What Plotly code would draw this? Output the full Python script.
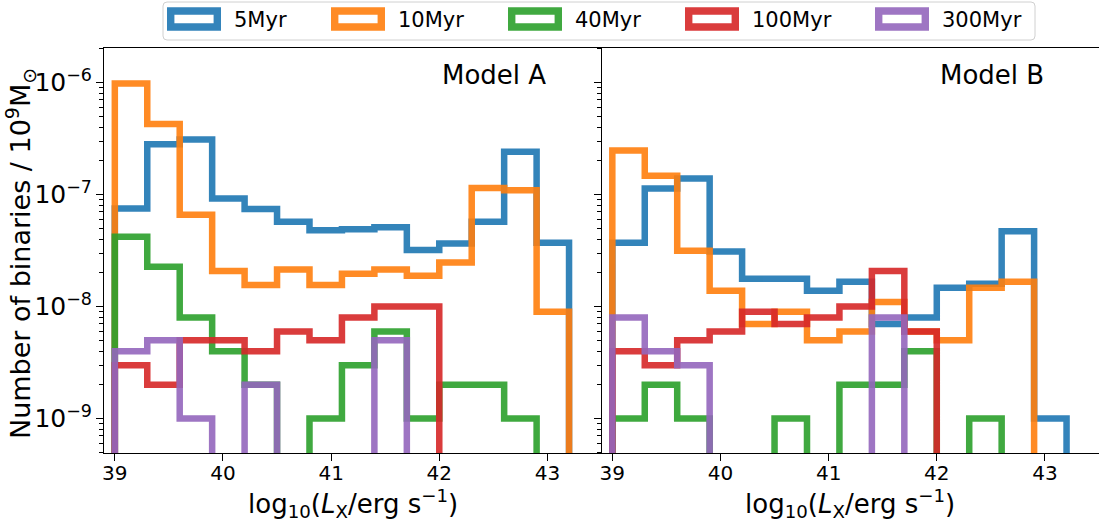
import plotly.graph_objects as go

# ---------------- data ----------------
BIN_EDGES = [39.0, 39.3, 39.6, 39.9, 40.2, 40.5, 40.8, 41.1, 41.4, 41.7, 42.0, 42.3, 42.6, 42.9, 43.2]
AGES = ["5Myr", "10Myr", "40Myr", "100Myr", "300Myr"]
COLORS = ["#1f77b4", "#ff7f0e", "#2ca02c", "#d62728", "#9467bd"]
PANELS = ["Model A", "Model B"]
X_TICKS = [39, 40, 41, 42, 43]

# Model A (one value per bin)
A_5Myr = [7.5e-8, 2.8e-7, 3.1e-7, 9.2e-8, 7.4e-8, 5.7e-8, 4.8e-8, 4.9e-8, 5.1e-8, 3.2e-8, 3.65e-8, 5.7e-8, 2.4e-7, 3.7e-8]
A_10Myr = [9.8e-7, 4.25e-7, 6.6e-8, 2.07e-8, 1.56e-8, 2.14e-8, 1.56e-8, 1.96e-8, 2.14e-8, 1.88e-8, 2.47e-8, 1.14e-7, 1.09e-7, 9e-9]
A_40Myr = [4.2e-8, 2.26e-8, 8e-9, 4e-9, 2e-9, 0, 1e-9, 3e-9, 6e-9, 1e-9, 2e-9, 2e-9, 1e-9, 0]
A_100Myr = [3e-9, 2e-9, 5e-9, 5e-9, 4e-9, 6e-9, 5e-9, 8e-9, 1e-8, 1e-8, 0, 0, 0, 0]
A_300Myr = [4e-9, 5e-9, 1e-9, 0, 2e-9, 0, 0, 0, 5e-9, 0, 0, 0, 0, 0]

# Model B
B_5Myr = [3.7e-8, 1.13e-7, 1.39e-7, 3.1e-8, 1.77e-8, 1.77e-8, 1.38e-8, 1.66e-8, 7e-9, 8e-9, 1.47e-8, 1.6e-8, 4.7e-8, 1e-9]
B_10Myr = [2.47e-7, 1.47e-7, 3.14e-8, 1.38e-8, 7e-9, 9e-9, 5e-9, 6e-9, 1.1e-8, 6e-9, 5e-9, 1.47e-8, 1.66e-8, 0]
B_40Myr = [1e-9, 2e-9, 1e-9, 0, 0, 1e-9, 0, 2e-9, 2e-9, 4e-9, 0, 1e-9, 0, 0]
B_100Myr = [4e-9, 3e-9, 5e-9, 6e-9, 9e-9, 7e-9, 8e-9, 1e-8, 2.07e-8, 6e-9, 0, 0, 0, 0]
B_300Myr = [8e-9, 4e-9, 3e-9, 0, 0, 0, 0, 0, 8e-9, 0, 0, 0, 0, 0]

MODEL_A = [A_5Myr, A_10Myr, A_40Myr, A_100Myr, A_300Myr]
MODEL_B = [B_5Myr, B_10Myr, B_40Myr, B_100Myr, B_300Myr]

# ---------------- layout constants ----------------
W, H = 1099, 523
ML, MR, MT, MB = 104, 0, 48, 70
PW, PH = W - ML - MR, H - MT - MB
FONT = "DejaVu Sans"
LW = 6.5
FLOOR = 1e-13  # empty bins drop below the axis like matplotlib's step histogram


def px(x):
    return (x - ML) / PW


def py(y):
    return (H - MB - y) / PH


def step_xy(edges, vals):
    xs, ys = [edges[0]], [FLOOR]
    for i, v in enumerate(vals):
        vv = v if v > 0 else FLOOR
        xs += [edges[i], edges[i + 1]]
        ys += [vv, vv]
    xs.append(edges[-1])
    ys.append(FLOOR)
    return xs, ys


fig = go.Figure()
for p, model in enumerate([MODEL_A, MODEL_B]):
    xa = "x" if p == 0 else "x2"
    ya = "y" if p == 0 else "y2"
    for name, col, vals in zip(AGES, COLORS, model):
        xs, ys = step_xy(BIN_EDGES, vals)
        fig.add_trace(go.Scatter(
            x=xs, y=ys, mode="lines", name=name, xaxis=xa, yaxis=ya,
            line=dict(color=col, width=LW), opacity=0.9, showlegend=False,
            hoverinfo="skip"))

yr = [-9.307, -5.693]
common_x = dict(range=[38.9, 43.5], tickmode="array", tickvals=X_TICKS,
                ticktext=[str(t) for t in X_TICKS], ticks="outside", ticklen=7,
                tickwidth=1, tickcolor="black", showline=True, linecolor="black",
                linewidth=1, mirror=True, showgrid=False, zeroline=False,
                ticklabelstandoff=-5,
                tickfont=dict(family=FONT, size=20, color="black"))
common_y = dict(type="log", range=yr, dtick=1, ticks="outside", ticklen=7,
                tickwidth=1, tickcolor="black", showline=True, linecolor="black",
                linewidth=1, mirror=False, showgrid=False, zeroline=False,
                exponentformat="power",
                minor=dict(ticks="outside", ticklen=4, tickcolor="black", tickwidth=1, showgrid=False),
                tickfont=dict(family=FONT, size=20, color="black"))

fig.update_layout(
    width=W, height=H, autosize=False,
    margin=dict(l=ML, r=MR, t=MT, b=MB, pad=0),
    paper_bgcolor="white", plot_bgcolor="white",
    font=dict(family=FONT, color="black"),
    xaxis=dict(domain=[0, 0.5], anchor="y", **common_x),
    xaxis2=dict(domain=[0.5, 1.0], anchor="y2", **common_x),
    yaxis=dict(domain=[0, 1], anchor="x", **common_y),
    yaxis2=dict(domain=[0, 1], anchor="x2", matches="y", showticklabels=False, **common_y),
)

annotations = []
# panel labels
for i, label in enumerate(PANELS):
    annotations.append(dict(
        text=label, xref="x domain" if i == 0 else "x2 domain", yref="y domain",
        x=0.893, y=py(75), xanchor="right", yanchor="middle", showarrow=False,
        font=dict(family=FONT, size=26, color="black")))

# axis titles
xlabel = "log<sub>10</sub>(<i>L</i><sub>X</sub>/erg s<sup>−1</sup>)"
for cx in [px((ML + ML + PW / 2) / 2), px((ML + PW / 2 + W) / 2)]:
    annotations.append(dict(
        text=xlabel, xref="paper", yref="paper", x=cx, y=py(503),
        xanchor="center", yanchor="middle", showarrow=False,
        font=dict(family=FONT, size=26, color="black")))
annotations.append(dict(
    text="Number of binaries / 10<sup>9</sup>M<sub>⊙</sub>", xref="paper", yref="paper",
    x=px(20), y=py(254), xanchor="center", yanchor="middle", textangle=-90,
    showarrow=False, font=dict(family=FONT, size=27, color="black")))

# manual legend (matplotlib-style outlined patches)
shapes = []
box_l, box_r, box_t, box_b, r = 163, 1035, 2, 40, 4
path = (f"M {px(box_l + r)},{py(box_t)} L {px(box_r - r)},{py(box_t)} "
        f"Q {px(box_r)},{py(box_t)} {px(box_r)},{py(box_t + r)} "
        f"L {px(box_r)},{py(box_b - r)} Q {px(box_r)},{py(box_b)} {px(box_r - r)},{py(box_b)} "
        f"L {px(box_l + r)},{py(box_b)} Q {px(box_l)},{py(box_b)} {px(box_l)},{py(box_b - r)} "
        f"L {px(box_l)},{py(box_t + r)} Q {px(box_l)},{py(box_t)} {px(box_l + r)},{py(box_t)} Z")
shapes.append(dict(type="path", path=path, xref="paper", yref="paper",
                   line=dict(color="#d0d0d0", width=1), fillcolor="white", layer="above"))
rect_left = [167, 331, 508, 685, 875]
for name, col, rl in zip(AGES, COLORS, rect_left):
    shapes.append(dict(type="rect", xref="paper", yref="paper",
                       x0=px(rl + 3.7), x1=px(rl + 54 - 3.7), y0=py(7.3 + 3.7), y1=py(30.7 - 3.7),
                       line=dict(color=col, width=7.4), fillcolor="rgba(0,0,0,0)",
                       opacity=0.9, layer="above"))
    annotations.append(dict(
        text=name, xref="paper", yref="paper", x=px(rl + 65), y=py(20.5),
        xanchor="left", yanchor="middle", showarrow=False,
        font=dict(family=FONT, size=21, color="black")))

fig.update_layout(annotations=annotations, shapes=shapes)
fig.write_html("out.html", config={"displayModeBar": False},
               post_script="document.body.style.margin='0';document.body.style.padding='0';")
